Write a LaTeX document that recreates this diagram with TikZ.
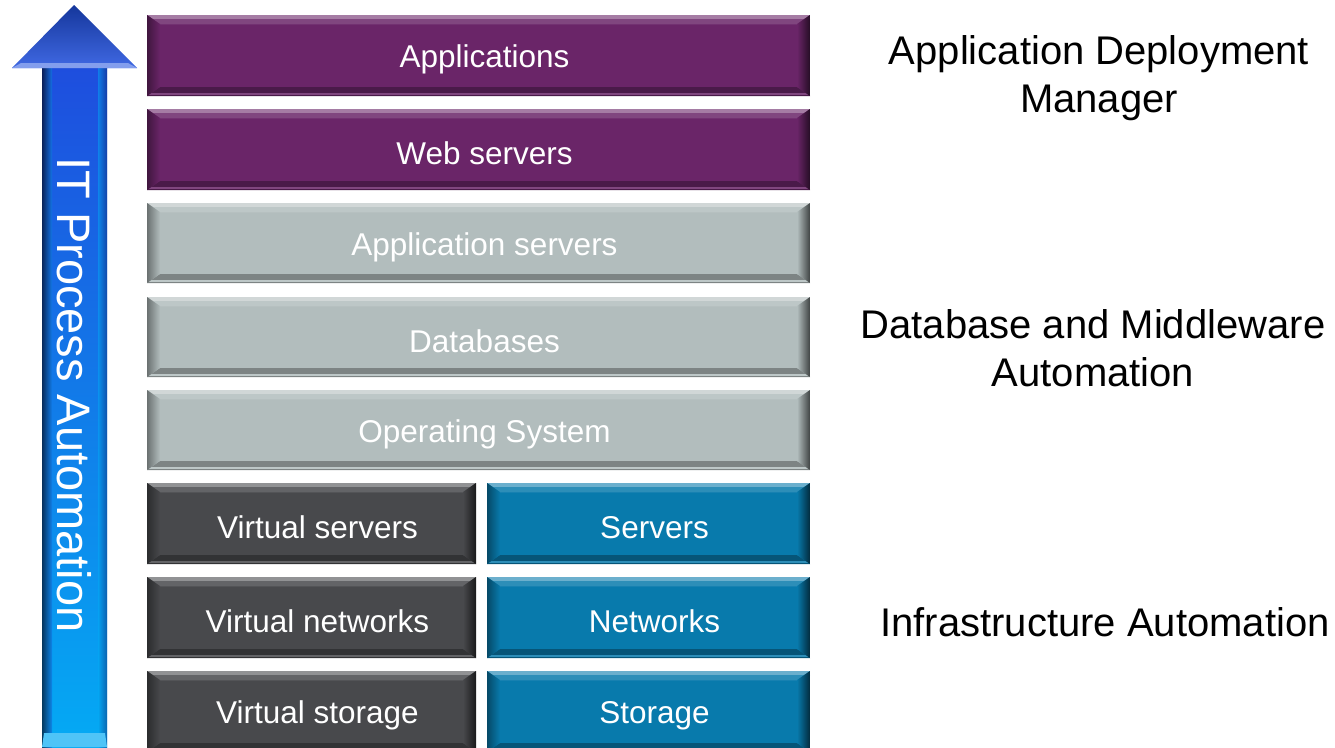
\documentclass[tikz,border=0pt]{standalone}
\usepackage{fontspec}
\setmainfont{Liberation Sans}
\usetikzlibrary{calc}
\definecolor{purp}{RGB}{106,37,104}
\definecolor{lgray}{RGB}{178,189,189}
\definecolor{dgray}{RGB}{72,73,76}
\definecolor{bblue}{RGB}{8,122,172}
\definecolor{arrtop}{RGB}{30,78,222}
\definecolor{arrbot}{RGB}{4,170,244}
\tikzset{
  boxbase/.style={inner sep=0pt, outer sep=0pt, text=white, font=\fontsize{31.5}{36}\selectfont},
  sidetext/.style={align=center, text=black, font=\fontsize{40}{48}\selectfont},
}
% name, x1, y1, x2, y2, colour, text
\newcommand\bevbox[7]{%
  \node[boxbase, fill=#6, minimum width={#4-#2}, minimum height={#5-#3}] (#1) at ({(#2+#4)/2},{(#3+#5)/2}) {};
  \fill[#6!60!white] (#1.north west) -- (#1.north east) -- ([xshift=-13pt,yshift=-9pt]#1.north east) -- ([xshift=13pt,yshift=-9pt]#1.north west) -- cycle;
  \fill[#6!85!white] ([yshift=-4pt]#1.north west) -- ([yshift=-4pt]#1.north east) -- ([xshift=-13pt,yshift=-9pt]#1.north east) -- ([xshift=13pt,yshift=-9pt]#1.north west) -- cycle;
  \fill[#6!70!black] (#1.south west) -- (#1.south east) -- ([xshift=-13pt,yshift=9pt]#1.south east) -- ([xshift=13pt,yshift=9pt]#1.south west) -- cycle;
  \fill[#6!85!white] ([yshift=1pt]#1.south west) -- ([yshift=1pt]#1.south east) -- ([yshift=3pt]#1.south east) -- ([yshift=3pt]#1.south west) -- cycle;
  \shade[left color=#6!60!black, right color=#6] (#1.north west) -- ([xshift=13pt,yshift=-9pt]#1.north west) -- ([xshift=13pt,yshift=9pt]#1.south west) -- (#1.south west) -- cycle;
  \shade[left color=#6, right color=#6!35!black] (#1.north east) -- ([xshift=-13pt,yshift=-9pt]#1.north east) -- ([xshift=-13pt,yshift=9pt]#1.south east) -- (#1.south east) -- cycle;
  \node[boxbase] at ([xshift=6pt,yshift=-4pt]#1.center) {#7};%
}
\begin{document}
\begin{tikzpicture}[x=1pt,y=-1pt]
\useasboundingbox (0,0) rectangle (1335,747);
% arrow
\shade[top color=arrtop, bottom color=arrbot] (42,68) rectangle (107,747);
\shade[left color=black!85!arrtop, right color=arrtop!50!arrbot, opacity=0.7] (42,68) rectangle (52,747);
\shade[left color=arrbot, right color=black!50!arrtop, opacity=0.5] (98,68) rectangle (107,747);
\fill[arrbot!70!white] (44,733) -- (105,733) -- (107,747) -- (42,747) -- cycle;
\coordinate (tip) at (74,5);
\coordinate (hl) at (12,68);
\coordinate (hr) at (137,68);
\shade[top color=black!30!arrtop, bottom color=arrtop!85!white] (tip) -- (hr) -- (hl) -- cycle;
\fill[arrtop!55!white] (12,68) -- (137,68) -- (128,63) -- (21,63) -- cycle;
\node[rotate=-90, text=white, font=\fontsize{47}{50}\selectfont, inner sep=0pt] (itp) at (74,395) {IT Process Automation};
% stack
\bevbox{app}{147}{15}{810}{96}{purp}{Applications}
\bevbox{web}{147}{109}{810}{190}{purp}{Web servers}
\bevbox{as}{147}{203}{810}{283}{lgray}{Application servers}
\bevbox{db}{147}{297}{810}{377}{lgray}{Databases}
\bevbox{os}{147}{390}{810}{470}{lgray}{Operating System}
\bevbox{vs}{147}{483}{476}{564}{dgray}{Virtual servers}
\bevbox{srv}{487}{483}{810}{564}{bblue}{Servers}
\bevbox{vn}{147}{577}{476}{658}{dgray}{Virtual networks}
\bevbox{net}{487}{577}{810}{658}{bblue}{Networks}
\bevbox{vst}{147}{671}{476}{752}{dgray}{Virtual storage}
\bevbox{sto}{487}{671}{810}{752}{bblue}{Storage}
% side labels
\node[sidetext] (adm) at (1099,78) {Application Deployment\\Manager};
\node[sidetext] (dma) at (1093,348) {Database and Middleware\\Automation};
\node[sidetext] (ia) at (1105,622) {Infrastructure Automation};
\end{tikzpicture}
\end{document}
